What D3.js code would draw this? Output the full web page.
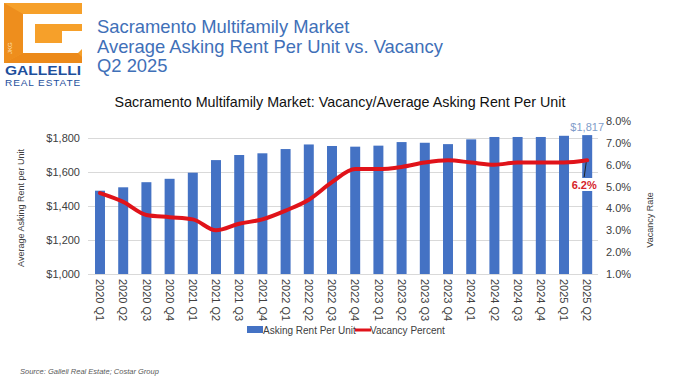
<!DOCTYPE html>
<html>
<head>
<meta charset="utf-8">
<script src="https://cdn.jsdelivr.net/npm/d3@7"></script>
<style>
	html,body { margin:0; padding:0; background:#fff; }
	svg { display:block; font-family:"Liberation Sans",Arial,sans-serif; }
</style>
</head>
<body>
<svg id="chart" width="679" height="382"></svg>
<script>

// chart data
// ----------
var quarters = ["2020 Q1","2020 Q2","2020 Q3","2020 Q4","2021 Q1","2021 Q2","2021 Q3","2021 Q4",
                "2022 Q1","2022 Q2","2022 Q3","2022 Q4","2023 Q1","2023 Q2","2023 Q3","2023 Q4",
                "2024 Q1","2024 Q2","2024 Q3","2024 Q4","2025 Q1","2025 Q2"];
var askingRent = [1490,1510,1540,1560,1596,1670,1700,1710,1735,1762,1753,1749,1755,1776,1772,1764,1792,1806,1806,1806,1813,1817];
var vacancy = [4.7,4.3,3.7,3.6,3.5,3.0,3.3,3.5,3.9,4.4,5.2,5.8,5.8,5.9,6.1,6.2,6.1,6.0,6.1,6.1,6.1,6.2];
var rentTicks = [1000,1200,1400,1600,1800];
var vacancyTicks = [1,2,3,4,5,6,7,8];

(function(){

	var svg = d3.select("#chart");
	var szBlue = "#4472c4";
	var szRed = "#e0131a";
	var szText = "#404040";

	// logo
	// ----
	var logo = svg.append("g");
	logo.append("rect").attr("x",4).attr("y",3).attr("width",78).attr("height",60).attr("fill","#f6a02a");
	logo.append("path").attr("d","M4,3 L23,14 L23,53 L4,63 Z").attr("fill","#ee8e1d");
	logo.append("path").attr("d","M23,53 L78,53 L82,57 L82,63 L4,63 Z").attr("fill","#ec8a1a");
	logo.append("path").attr("d","M23,14 H82 V24 H35 V43 H62 V31 H82 V49 L78,53 H23 Z").attr("fill","#fff");
	logo.append("text").attr("transform","translate(12,54) rotate(-90)")
		.attr("font-size",6).attr("fill","#fde2b5").text("JKG");
	logo.append("text").attr("x",43).attr("y",75).attr("text-anchor","middle")
		.attr("font-size",12.5).attr("font-weight","bold").attr("fill","#1d4f9c")
		.attr("textLength",76).attr("lengthAdjust","spacingAndGlyphs").text("GALLELLI");
	logo.append("text").attr("x",43).attr("y",86).attr("text-anchor","middle")
		.attr("font-size",9).attr("fill","#1d4f9c").attr("letter-spacing",0.8)
		.attr("textLength",76).attr("lengthAdjust","spacingAndGlyphs").text("REAL ESTATE");

	// header title
	// ------------
	var header = ["Sacramento Multifamily Market","Average Asking Rent Per Unit vs. Vacancy","Q2 2025"];
	svg.append("g").selectAll("text").data(header).join("text")
		.attr("x",97).attr("y",function(d,i){ return 33+i*19.5; })
		.attr("font-size",18.4).attr("fill","#3f70b8").text(function(d){ return d; });

	// chart title
	// -----------
	svg.append("text").attr("x",340).attr("y",107).attr("text-anchor","middle")
		.attr("font-size",14.3).attr("fill","#111")
		.text("Sacramento Multifamily Market: Vacancy/Average Asking Rent Per Unit");

	// scales
	// ------
	var x = d3.scaleBand().domain(quarters).range([88.4,598.8]).paddingInner(0.57).paddingOuter(0.285);
	var yRent = d3.scaleLinear().domain([1000,1900]).range([274,121]);
	var yVac = d3.scaleLinear().domain([1,8]).range([274,121]);

	// grid lines
	// ----------
	svg.append("g").selectAll("line").data(rentTicks).join("line")
		.attr("x1",88).attr("x2",598)
		.attr("y1",function(d){ return yRent(d)+0.5; }).attr("y2",function(d){ return yRent(d)+0.5; })
		.attr("stroke","#d9d9d9").attr("stroke-width",1);

	// axes
	// ----
	var axLeft = svg.append("g").attr("transform","translate(80,0)")
		.call(d3.axisLeft(yRent).tickValues(rentTicks).tickSize(0).tickPadding(0).tickFormat(function(d){ return "$"+d3.format(",")(d); }));
	var axRight = svg.append("g").attr("transform","translate(606,0)")
		.call(d3.axisRight(yVac).tickValues(vacancyTicks).tickSize(0).tickPadding(0).tickFormat(function(d){ return d.toFixed(1)+"%"; }));
	[axLeft,axRight].forEach(function(ax){
		ax.select(".domain").remove();
		ax.selectAll("text").attr("font-size",11).attr("fill",szText).attr("font-family","Liberation Sans,Arial,sans-serif");
	});

	var axBottom = svg.append("g").attr("transform","translate(0,279)")
		.call(d3.axisBottom(x).tickSize(0).tickPadding(0));
	axBottom.select(".domain").remove();
	axBottom.selectAll("text")
		.attr("y",0).attr("dy","0.35em").attr("transform","rotate(90)")
		.attr("text-anchor","start").attr("font-size",11).attr("fill",szText)
		.attr("font-family","Liberation Sans,Arial,sans-serif");

	// axis titles
	// -----------
	svg.append("text").attr("transform","translate(24,208) rotate(-90)").attr("text-anchor","middle")
		.attr("font-size",9).attr("fill",szText).text("Average Asking Rent per Unit");
	svg.append("text").attr("transform","translate(653,220) rotate(-90)").attr("text-anchor","middle")
		.attr("font-size",9).attr("fill",szText).text("Vacancy Rate");

	// bars
	// ----
	svg.append("g").selectAll("rect").data(askingRent).join("rect")
		.attr("x",function(d,i){ return x(quarters[i]); })
		.attr("width",x.bandwidth())
		.attr("y",function(d){ return yRent(d); })
		.attr("height",function(d){ return yRent(1000)-yRent(d); })
		.attr("fill",szBlue);

	// vacancy line
	// ------------
	var line = d3.line()
		.x(function(d,i){ return x(quarters[i])+x.bandwidth()/2; })
		.y(function(d){ return yVac(d); })
		.curve(d3.curveMonotoneX);
	svg.append("path").datum(vacancy).attr("d",line)
		.attr("fill","none").attr("stroke",szRed).attr("stroke-width",4)
		.attr("stroke-linejoin","round").attr("stroke-linecap","round");

	// last value labels
	// -----------------
	var n = quarters.length-1;
	var cx = x(quarters[n])+x.bandwidth()/2;
	svg.append("text").attr("x",cx).attr("y",yRent(askingRent[n])-4).attr("text-anchor","middle")
		.attr("font-size",11).attr("fill","#7f9dca").text("$"+d3.format(",")(askingRent[n]));

	svg.append("line").attr("x1",cx-1).attr("y1",yVac(vacancy[n])+2).attr("x2",cx-3).attr("y2",177)
		.attr("stroke","#222").attr("stroke-width",1);
	svg.append("rect").attr("x",cx-16).attr("y",178).attr("width",26).attr("height",13).attr("fill","#fff");
	svg.append("text").attr("x",cx-3).attr("y",189).attr("text-anchor","middle")
		.attr("font-size",11).attr("font-weight","bold").attr("fill","#d6242a").text(vacancy[n].toFixed(1)+"%");

	// legend
	// ------
	var legend = svg.append("g").attr("font-size",10).attr("fill",szText);
	legend.append("rect").attr("x",247).attr("y",326).attr("width",16).attr("height",7).attr("fill",szBlue);
	legend.append("text").attr("x",263).attr("y",334).attr("fill",szText).text("Asking Rent Per Unit");
	legend.append("line").attr("x1",355).attr("x2",371).attr("y1",330).attr("y2",330)
		.attr("stroke",szRed).attr("stroke-width",3);
	legend.append("text").attr("x",370).attr("y",334).attr("fill",szText).text("Vacancy Percent");

	// source note
	// -----------
	svg.append("text").attr("x",20).attr("y",374).attr("font-size",7.5).attr("font-style","italic")
		.attr("fill","#595959").text("Source: Galleli Real Estate; Costar Group");

})();
</script>
</body>
</html>
